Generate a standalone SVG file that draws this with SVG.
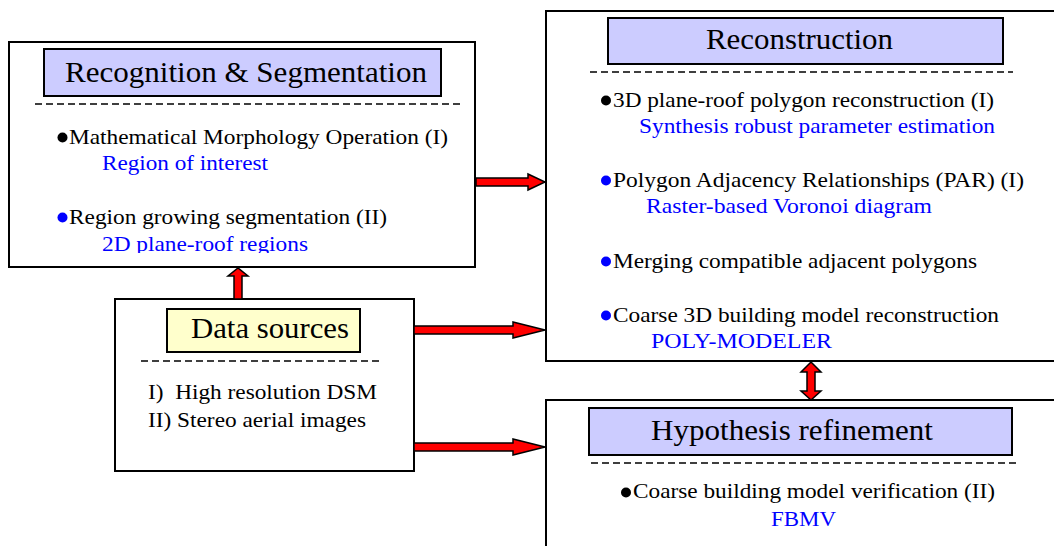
<svg xmlns="http://www.w3.org/2000/svg" width="1054" height="546" viewBox="0 0 1054 546">
<style>
.box{fill:#fff;stroke:#000;stroke-width:2}
.tbl{fill:#ccccff;stroke:#000;stroke-width:2}
.tby{fill:#ffffcc;stroke:#000;stroke-width:2}
.dash{stroke:#000;stroke-width:1.5;stroke-dasharray:7 4;fill:none}
.title{font-family:"Liberation Serif","Times New Roman",serif;font-size:30px;fill:#000}
.t{font-family:"Liberation Serif","Times New Roman",serif;font-size:21px;fill:#000}
.b{font-family:"Liberation Serif","Times New Roman",serif;font-size:21px;fill:#0000ff}
.arr{fill:#ff0000;stroke:#000;stroke-width:1.5;stroke-linejoin:miter}
.dk{fill:#000}
.db{fill:#0000ff}
</style>
<defs>
<clipPath id="clipRS"><rect x="0" y="0" width="480" height="253"/></clipPath>
</defs>
<rect x="0" y="0" width="1054" height="546" fill="#fff"/>

<g id="recognition">
<rect class="box" x="9" y="42" width="466" height="225"/>
<rect class="tbl" x="44" y="49" width="397" height="47"/>
<text class="title" x="65" y="82" textLength="362" lengthAdjust="spacingAndGlyphs">Recognition &amp; Segmentation</text>
<line class="dash" x1="35" y1="104" x2="460" y2="104"/>
<circle class="dk" cx="62.5" cy="137.5" r="5"/>
<text class="t" x="69" y="144" textLength="379" lengthAdjust="spacingAndGlyphs">Mathematical Morphology Operation (I)</text>
<text class="b" x="102" y="170" textLength="166" lengthAdjust="spacingAndGlyphs">Region of interest</text>
<circle class="db" cx="62.5" cy="217.5" r="5"/>
<text class="t" x="69" y="224" textLength="318" lengthAdjust="spacingAndGlyphs">Region growing segmentation (II)</text>
<text class="b" x="102" y="251" textLength="206" lengthAdjust="spacingAndGlyphs" clip-path="url(#clipRS)">2D plane-roof regions</text>
</g>

<g id="datasources">
<rect class="box" x="115" y="299" width="299" height="172"/>
<rect class="tby" x="167" y="309" width="193" height="43"/>
<text class="title" x="191" y="338" textLength="158" lengthAdjust="spacingAndGlyphs">Data sources</text>
<line class="dash" x1="141" y1="361" x2="380" y2="361"/>
<text class="t" x="148" y="399" textLength="229" lengthAdjust="spacingAndGlyphs" xml:space="preserve">I)  High resolution DSM</text>
<text class="t" x="148" y="427" textLength="218" lengthAdjust="spacingAndGlyphs">II) Stereo aerial images</text>
</g>

<g id="reconstruction">
<rect class="box" x="546" y="11" width="520" height="350"/>
<rect class="tbl" x="608" y="18" width="395" height="46"/>
<text class="title" x="706" y="49" textLength="187" lengthAdjust="spacingAndGlyphs">Reconstruction</text>
<line class="dash" x1="590" y1="72" x2="1013" y2="72"/>
<circle class="dk" cx="606" cy="100.5" r="5"/>
<text class="t" x="613" y="107" textLength="381" lengthAdjust="spacingAndGlyphs">3D plane-roof polygon reconstruction (I)</text>
<text class="b" x="639" y="133" textLength="356" lengthAdjust="spacingAndGlyphs">Synthesis robust parameter estimation</text>
<circle class="db" cx="606" cy="180.5" r="5"/>
<text class="t" x="613" y="187" textLength="411" lengthAdjust="spacingAndGlyphs">Polygon Adjacency Relationships (PAR) (I)</text>
<text class="b" x="646" y="213" textLength="286" lengthAdjust="spacingAndGlyphs">Raster-based Voronoi diagram</text>
<circle class="db" cx="606" cy="261.5" r="5"/>
<text class="t" x="613" y="268" textLength="364" lengthAdjust="spacingAndGlyphs">Merging compatible adjacent polygons</text>
<circle class="db" cx="606" cy="315.5" r="5"/>
<text class="t" x="613" y="322" textLength="386" lengthAdjust="spacingAndGlyphs">Coarse 3D building model reconstruction</text>
<text class="b" x="651" y="348" textLength="181" lengthAdjust="spacingAndGlyphs">POLY-MODELER</text>
</g>

<g id="hypothesis">
<rect class="box" x="546" y="400" width="520" height="160"/>
<rect class="tbl" x="589" y="408" width="423" height="47"/>
<text class="title" x="651" y="440" textLength="282" lengthAdjust="spacingAndGlyphs">Hypothesis refinement</text>
<line class="dash" x1="591" y1="463" x2="1019" y2="463"/>
<circle class="dk" cx="626" cy="492.5" r="5"/>
<text class="t" x="633" y="498" textLength="362" lengthAdjust="spacingAndGlyphs">Coarse building model verification (II)</text>
<text class="b" x="771" y="526" textLength="65" lengthAdjust="spacingAndGlyphs">FBMV</text>
</g>

<g id="connectors">
<polygon class="arr" points="476,178 528,178 528,174 545,182 528,190 528,186 476,186"/>
<polygon class="arr" points="414,326 513,326 513,322 545,330 513,338 513,334 414,334"/>
<polygon class="arr" points="414,443 513,443 513,439 545,447 513,455 513,451 414,451"/>
<polygon class="arr" points="234,299 234,276 228,276 238,268 248,276 242,276 242,299"/>
<polygon class="arr" points="807,372 801,372 811,362 821,372 815,372 815,391 821,391 811,400 801,391 807,391"/>
</g>
</svg>
